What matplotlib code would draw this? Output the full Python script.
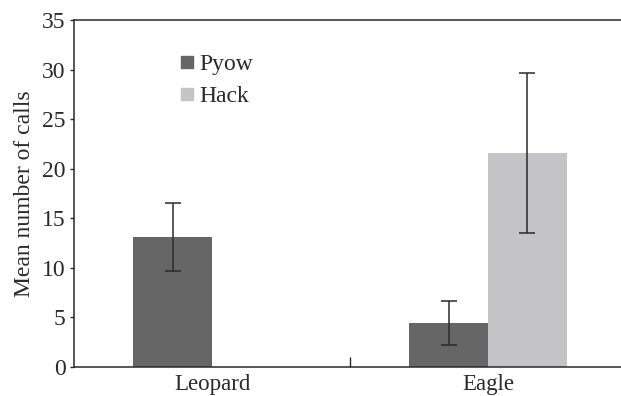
import numpy as np
import matplotlib.pyplot as plt
from matplotlib.lines import Line2D

predators = ['Leopard', 'Eagle']
pyow_mean = [13.1, 4.45]
pyow_err = [3.4, 2.25]
hack_mean = [0.0, 21.6]
hack_err = [np.nan, 8.05]

dark = '#666667'
light = '#c4c4c6'
ink = '#2a2a2a'

plt.rcParams['font.family'] = ['Liberation Serif', 'DejaVu Serif']

fig = plt.figure(figsize=(6.21, 3.96), dpi=100)
ax = fig.add_axes([74/621, 29/396, (626-74)/621, 347/396])

x = np.arange(len(predators))
w = 0.286
ax.bar(x - w/2, pyow_mean, w, color=dark, zorder=2)
ax.bar(x + w/2, hack_mean, w, color=light, zorder=2)
ax.errorbar(x - w/2, pyow_mean, yerr=pyow_err, fmt='none', ecolor=ink,
            elinewidth=1.1, capsize=6, capthick=1.1, zorder=3)
ax.errorbar(x + w/2, hack_mean, yerr=hack_err, fmt='none', ecolor=ink,
            elinewidth=1.1, capsize=6, capthick=1.1, zorder=3)

ax.set_xlim(-0.5, 1.5)
ax.set_ylim(0, 35)
ax.set_yticks(np.arange(0, 36, 5))
ax.tick_params(axis='y', direction='out', length=3, width=1, labelsize=17,
               pad=3, colors=ink)

# category labels under each group, one tick between the groups
ax.set_xticks([0.5])
ax.set_xticklabels([''])
ax.tick_params(axis='x', direction='in', length=7, width=1, colors=ink)
for xi, name in zip(x, predators):
    ax.text(xi, -0.75, name, ha='center', va='top', fontsize=16.5, color=ink)

for s in ['left', 'bottom', 'top', 'right']:
    ax.spines[s].set_color(ink)
    ax.spines[s].set_linewidth(1.1)

ax.set_ylabel('Mean number of calls', fontsize=17, color=ink, labelpad=5)

handles = [Line2D([], [], ls='none', marker='s', markersize=8, color=dark),
           Line2D([], [], ls='none', marker='s', markersize=8, color=light)]
ax.legend(handles, ['Pyow', 'Hack'], loc='upper left',
          bbox_to_anchor=(0.175, 0.93), frameon=False, fontsize=17,
          handlelength=0.6, handletextpad=0.2, labelspacing=0.45,
          borderaxespad=0, labelcolor=ink)

fig.savefig('out.png', dpi=100)
